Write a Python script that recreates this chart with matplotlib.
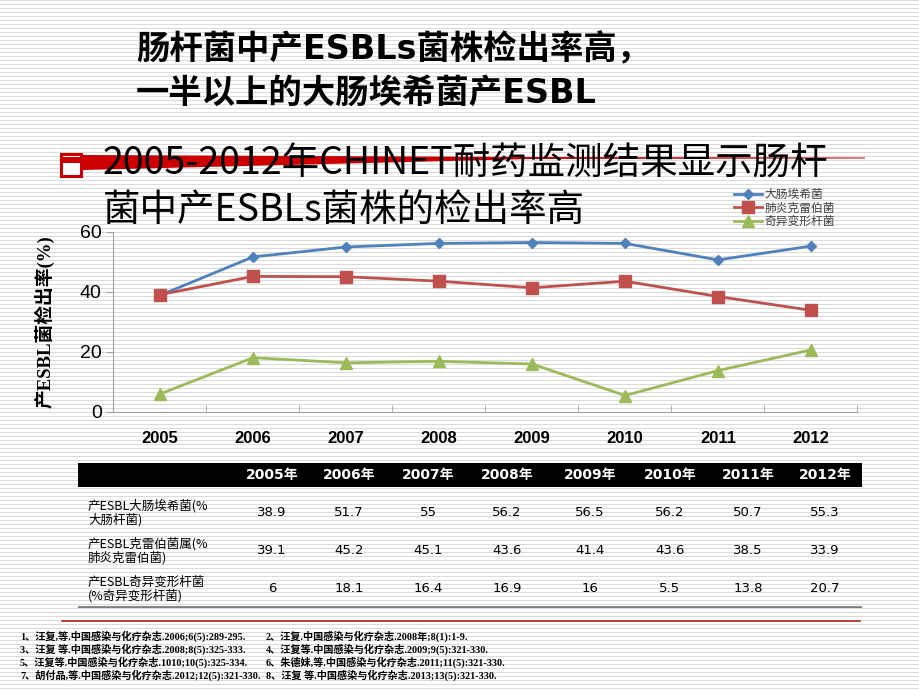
import numpy as np
import matplotlib
matplotlib.use("Agg")
import matplotlib.pyplot as plt
from matplotlib.patches import Polygon, Rectangle
from matplotlib.lines import Line2D

CJK = "Noto Sans CJK SC"

years = ["2005", "2006", "2007", "2008", "2009", "2010", "2011", "2012"]
series_names = ["大肠埃希菌", "肺炎克雷伯菌", "奇异变形杆菌"]
ecoli = [38.9, 51.7, 55, 56.2, 56.5, 56.2, 50.7, 55.3]
kpn = [39.1, 45.2, 45.1, 43.6, 41.4, 43.6, 38.5, 33.9]
pmi = [6, 18.1, 16.4, 16.9, 16, 5.5, 13.8, 20.7]
row_labels = ["产ESBL大肠埃希菌(%\n大肠杆菌)",
              "产ESBL克雷伯菌属(%\n肺炎克雷伯菌)",
              "产ESBL奇异变形杆菌\n(%奇异变形杆菌)"]
refs_left = ["1、汪复,等.中国感染与化疗杂志.2006;6(5):289-295.",
             "3、汪复 等.中国感染与化疗杂志.2008;8(5):325-333.",
             "5、汪复等.中国感染与化疗杂志.1010;10(5):325-334.",
             "7、胡付品,等.中国感染与化疗杂志.2012;12(5):321-330."]
refs_right = ["2、汪复.中国感染与化疗杂志.2008年;8(1):1-9.",
              "4、汪复等.中国感染与化疗杂志.2009;9(5):321-330.",
              "6、朱德妹,等.中国感染与化疗杂志.2011;11(5):321-330.",
              "8、汪复 等.中国感染与化疗杂志.2013;13(5):321-330."]

W, H = 920, 690
fig = plt.figure(figsize=(W / 100, H / 100), dpi=100)

def fx(x):
    return x / W

def fy(y):
    return 1 - y / H

# striped slide background
bg = fig.add_axes([0, 0, 1, 1], zorder=-10)
stripes = np.ones((H, W, 3))
stripes[::4] = 0.86
bg.imshow(stripes, aspect="auto", interpolation="nearest")
bg.axis("off")

# headline
fig.text(fx(136), fy(50), "肠杆菌中产ESBLs菌株检出率高，", fontsize=24, fontweight="bold",
         family=["DejaVu Sans", CJK], va="center", ha="left")
fig.text(fx(136), fy(93), "一半以上的大肠埃希菌产ESBL", fontsize=24, fontweight="bold",
         family=["DejaVu Sans", CJK], va="center", ha="left")

# red tapered rule + bullet
fig.add_artist(Polygon([(fx(83), fy(155)), (fx(530), fy(157)), (fx(865), fy(157.5)),
                        (fx(865), fy(158.5)), (fx(530), fy(159)), (fx(83), fy(170))],
                       closed=True, transform=fig.transFigure, color="#cc0000", lw=0))
fig.add_artist(Rectangle((fx(61), fy(176)), fx(20), 22 / H, transform=fig.transFigure,
                         facecolor="white", edgecolor="#cc0000", lw=2.2))
fig.add_artist(Rectangle((fx(61), fy(163)), fx(20), 6 / H, transform=fig.transFigure,
                         facecolor="#cc0000", lw=0))

fig.text(fx(103), fy(164), "2005-2012年CHINET耐药监测结果显示肠杆", fontsize=27,
         family=CJK, va="center", ha="left")
fig.text(fx(103), fy(210), "菌中产ESBLs菌株的检出率高", fontsize=27,
         family=CJK, va="center", ha="left")

# line chart
ax = fig.add_axes([fx(113.5), fy(412), (857.5 - 113.5) / W, 180 / H])
ax.patch.set_alpha(0)
x = np.arange(len(years))
ax.plot(x, ecoli, color="#4F81BD", lw=2, marker="D", ms=5, label=series_names[0])
ax.plot(x, kpn, color="#C0504D", lw=2, marker="s", ms=8, label=series_names[1])
ax.plot(x, pmi, color="#9BBB59", lw=2, marker="^", ms=8, label=series_names[2])
ax.set_xlim(-0.5, len(years) - 0.5)
ax.set_ylim(0, 60)
ax.set_yticks([0, 20, 40, 60])
ax.set_xticks(x)
ax.set_xticklabels(years, fontsize=12, fontweight="bold", family="Liberation Sans")
ax.set_xticks(np.arange(len(years) + 1) - 0.5, minor=True)
ax.tick_params(axis="x", which="major", length=0, pad=14)
ax.tick_params(axis="x", which="minor", direction="in", length=5, color="#a0a0a0")
ax.tick_params(axis="y", length=5, color="#a0a0a0", labelsize=14)
for t in ax.get_yticklabels():
    t.set_family("Liberation Sans")
for s in ["top", "right"]:
    ax.spines[s].set_visible(False)
for s in ["left", "bottom"]:
    ax.spines[s].set_color("#a0a0a0")
ax.set_ylabel("产ESBL菌检出率(%)", fontsize=13.5, fontweight="bold",
              family=["Liberation Serif", CJK], labelpad=18)
leg = ax.legend(loc="upper left", bbox_to_anchor=((728 - 113.5) / 744, 1 + 50 / 180),
                frameon=False, prop={"family": CJK, "size": 8.5}, handlelength=2.4,
                labelspacing=0.05, handletextpad=0.2, borderpad=0)
for t in leg.get_texts():
    t.set_color("#404040")

# data table
tx0, tx1 = 78, 862
tab = fig.add_axes([fx(tx0), fy(608), (tx1 - tx0) / W, 148 / H])
tab.set_xlim(tx0, tx1)
tab.set_ylim(608, 460)
tab.axis("off")
col_x = [272, 349, 428, 507, 590, 670, 748, 825]
tab.add_patch(Rectangle((tx0, 463), tx1 - tx0, 24, color="black", lw=0))
for cx, yr in zip(col_x, years):
    tab.text(cx, 475, yr + "年", color="white", fontsize=10, fontweight="bold",
             family=["DejaVu Sans", CJK], ha="center", va="center")
row_y = [513, 551, 589]
for ry, lab, vals in zip(row_y, row_labels, [ecoli, kpn, pmi]):
    tab.text(88, ry, lab, fontsize=9, family=CJK, ha="left", va="center", linespacing=1.05)
    for cx, v in zip(col_x, vals):
        tab.text(cx, ry, f"{v:g}", fontsize=9.5, family="DejaVu Sans", ha="center", va="center")
tab.plot([tx0, tx1], [607, 607], color="#7f7f7f", lw=2)

# references
fig.add_artist(Line2D([fx(62), fx(860)], [fy(621), fy(621)], transform=fig.transFigure,
                      color="#b22222", lw=1.2))
for i, (a, b) in enumerate(zip(refs_left, refs_right)):
    yy = fy(636 + 13 * i)
    fig.text(fx(20), yy, a, fontsize=7.3, fontweight="bold",
             family=["Liberation Serif", CJK], va="center")
    fig.text(fx(266), yy, b, fontsize=7.3, fontweight="bold",
             family=["Liberation Serif", CJK], va="center")

fig.savefig("out.png", dpi=100)
